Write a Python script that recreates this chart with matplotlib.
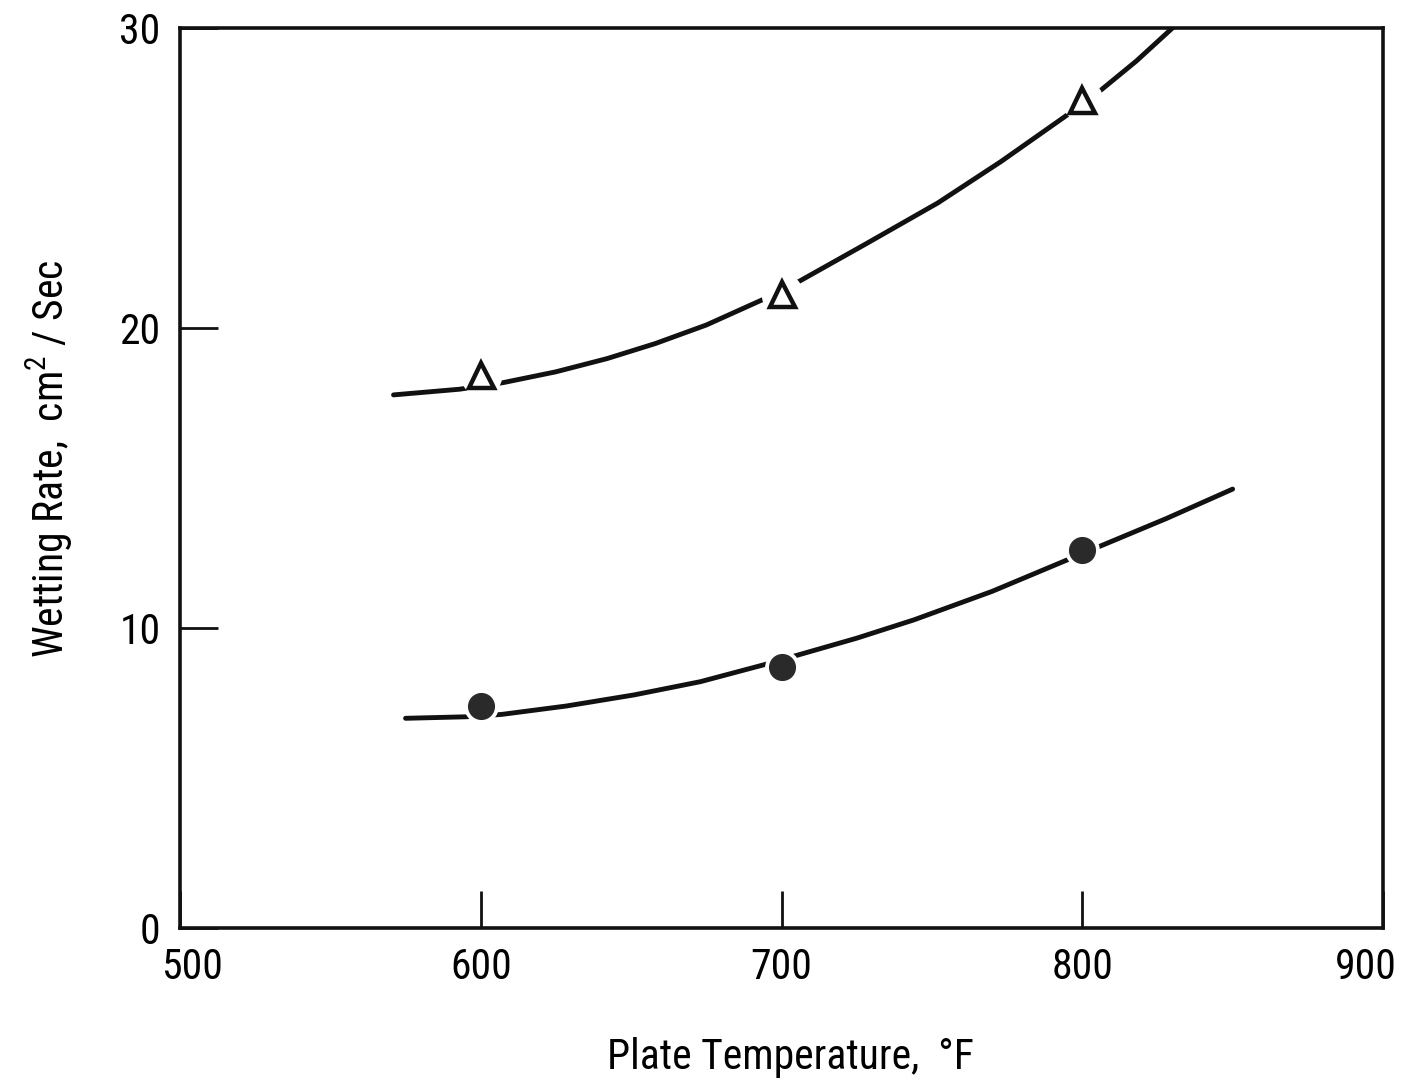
import matplotlib
matplotlib.use('Agg')
import matplotlib.pyplot as plt
from matplotlib import font_manager
from matplotlib.transforms import ScaledTranslation


def pick_font():
    """Prefer a narrow sans; fall back to a condensed face of a common family."""
    names = {f.name for f in font_manager.fontManager.ttflist}
    for name in ['Liberation Sans Narrow', 'Roboto Condensed', 'Open Sans Condensed',
                 'Noto Sans Condensed', 'DejaVu Sans Condensed', 'Arial Narrow']:
        if name in names:
            return name, 'normal'
    for f in font_manager.fontManager.ttflist:
        if (f.name in ('DejaVu Sans', 'Noto Sans', 'Open Sans', 'Roboto', 'Liberation Sans')
                and f.stretch in ('condensed', 'semi-condensed', 'extra-condensed')
                and f.style == 'normal' and f.weight in (400, 'normal', 'regular')):
            return f.name, f.stretch
    return 'DejaVu Sans', 'normal'


family, stretch = pick_font()
plt.rcParams['font.family'] = family
plt.rcParams['font.stretch'] = stretch
plt.rcParams['mathtext.fontset'] = 'custom'
plt.rcParams['mathtext.rm'] = family
plt.rcParams['mathtext.it'] = family

# Measured points
temp_pts = [600, 700, 800]
rate_triangle = [18.45, 21.15, 27.6]
rate_circle = [7.4, 8.7, 12.6]

# Faired curves through the data
upper_temp = [571, 593, 607.5, 625, 642, 658, 675, 694.5, 704, 728, 752, 773, 794, 805, 818, 830]
upper_rate = [17.77, 17.96, 18.18, 18.54, 18.98, 19.48, 20.1, 20.98, 21.45, 22.8, 24.17,
              25.55, 27.03, 27.83, 28.9, 30.0]
lower_temp = [575, 595, 607, 628.5, 651, 673, 694, 705.5, 725, 744, 770, 795, 806, 828, 850]
lower_rate = [6.99, 7.04, 7.12, 7.40, 7.77, 8.21, 8.77, 9.10, 9.66, 10.27, 11.22, 12.27,
              12.73, 13.65, 14.63]

x_ticks = [500, 600, 700, 800, 900]
y_ticks = [0, 10, 20, 30]

fig = plt.figure(figsize=(14.14, 10.85), dpi=100)
ax = fig.add_axes([180/1414, 157/1085, 1203/1414, 900/1085])

# Curves, with a white patch under each symbol so the line breaks there
line_kw = dict(color='#111111', lw=3.5, solid_capstyle='round', solid_joinstyle='round', zorder=2)
ax.plot(upper_temp, upper_rate, **line_kw)
ax.plot(lower_temp, lower_rate, **line_kw)
ax.plot(temp_pts, rate_triangle, 'o', ms=30, mfc='white', mec='none', zorder=3)
ax.plot(temp_pts, rate_circle, 'o', ms=25, mfc='white', mec='none', zorder=3)

ax.plot(temp_pts, rate_triangle, '^', ms=18, mfc='white', mec='#111111', mew=3.2, zorder=4)
ax.plot(temp_pts, rate_circle, 'o', ms=18.5, mfc='#2a2a2a', mec='#2a2a2a', mew=1, zorder=4)

ax.set_xlim(500, 900)
ax.set_ylim(0, 30)
ax.set_xticks(x_ticks)
ax.set_yticks(y_ticks)

for s in ax.spines.values():
    s.set_linewidth(2.6)
    s.set_color('#111111')

ax.tick_params(axis='both', direction='in', length=27, width=2, color='#111111',
               labelsize=30, pad=14, top=False, right=False)

# End labels sit a little inside the corners
xl = ax.get_xticklabels()
xl[0].set_transform(xl[0].get_transform() + ScaledTranslation(0.12, 0, fig.dpi_scale_trans))
xl[-1].set_transform(xl[-1].get_transform() + ScaledTranslation(-0.17, 0, fig.dpi_scale_trans))

ax.set_xlabel('Plate Temperature,  \u00b0F', fontsize=30, va='center')
ax.xaxis.set_label_coords((790 - 180) / 1203, -(1057 - 928) / 900)
ax.set_ylabel('Wetting Rate,  cm$^{2}$ / Sec', fontsize=30, va='center')
ax.yaxis.set_label_coords((50 - 180) / 1203, (928 - 459) / 900)

fig.savefig('out.png', dpi=100)
